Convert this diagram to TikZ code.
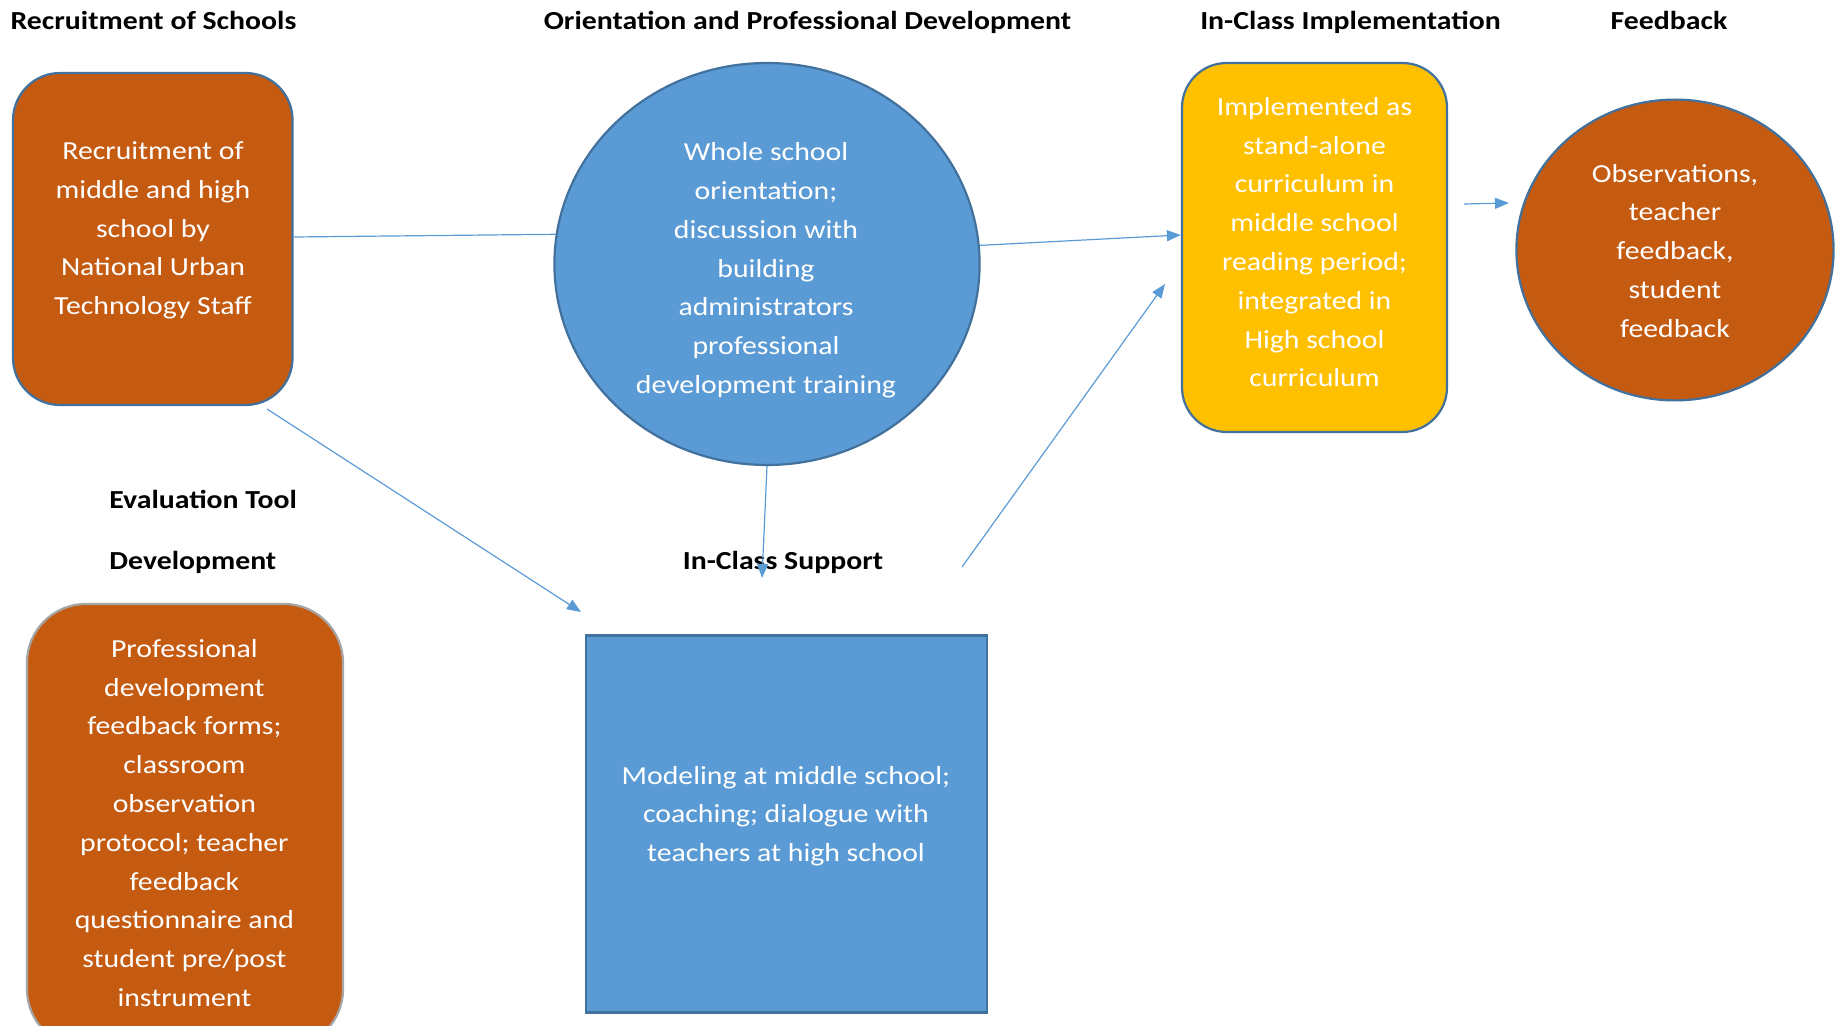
\documentclass[tikz,border=0pt]{standalone}
\usepackage{fontspec}
\setmainfont{Carlito}[FakeStretch=1.145]
\usetikzlibrary{arrows.meta,shapes.geometric}
\definecolor{corange}{HTML}{C55A11}
\definecolor{cblue}{HTML}{5B9BD5}
\definecolor{cyellow}{HTML}{FFC000}
\definecolor{cborder}{HTML}{41719C}
\definecolor{cgray}{HTML}{A5A5A5}
\tikzset{
  bodytext/.style={align=center, text=white, font=\fontsize{13}{19.4}\selectfont, inner sep=0pt},
  titletext/.style={font=\bfseries\fontsize{13}{16}\selectfont, inner sep=0pt},
  shapebox/.style={draw=cborder, line width=1.1pt, inner sep=0pt},
  conn/.style={draw=cblue, line width=0.6pt},
  connarrow/.style={conn, -{Triangle[length=7pt,width=5.5pt]}}
}
\begin{document}
\begin{tikzpicture}[x=1pt,y=-1pt]
\useasboundingbox (0,0) rectangle (921,513);
% shapes
\node[shapebox, fill=corange, rounded corners=23.5pt, minimum width=139.75pt, minimum height=166pt] (b1) at (76.4,119.5) {};
\node[shapebox, fill=cblue, ellipse, minimum width=212.6pt, minimum height=201pt] (e1) at (383.5,132) {};
\node[shapebox, fill=cyellow, rounded corners=22.3pt, minimum width=132.5pt, minimum height=184.5pt] (yb) at (657.25,123.75) {};
\node[shapebox, fill=corange, ellipse, minimum width=158.6pt, minimum height=150.4pt] (e2) at (837.5,125) {};
\node[shapebox, draw=cgray, fill=corange, rounded corners=29.4pt, minimum width=158pt, minimum height=222pt] (eb) at (92.5,413) {};
\node[shapebox, fill=cblue, rounded corners=0pt, minimum width=200.5pt, minimum height=188.5pt] (br) at (393.25,412) {};
% body texts
\node[bodytext] (t1) at (76.5,115.2) {Recruitment of\\middle and high\\school by\\National Urban\\Technology Staff};
\node[bodytext] (t2) at (383,135.2) {Whole school\\orientation;\\discussion with\\building\\administrators\\professional\\development training};
\node[bodytext] (t3) at (657.25,121.1) {Implemented as\\stand-alone\\curriculum in\\middle school\\reading period;\\integrated in\\High school\\curriculum};
\node[bodytext] (t4) at (837.5,125.4) {Observations,\\teacher\\feedback,\\student\\feedback};
\node[bodytext] (t5) at (92.2,411.5) {Professional\\development\\feedback forms;\\classroom\\observation\\protocol; teacher\\feedback\\questionnaire and\\student pre/post\\instrument};
\node[bodytext] (t6) at (393,408.1) {Modeling at middle school;\\coaching; dialogue with\\teachers at high school};
% titles
\node[titletext, anchor=base] (h1) at (76.75,14.9) {Recruitment of Schools};
\node[titletext, anchor=base] (h2) at (403.75,14.9) {Orientation and Professional Development};
\node[titletext, anchor=base] (h3) at (675.25,14.9) {In-Class Implementation};
\node[titletext, anchor=base] (h4) at (834.5,14.9) {Feedback};
\node[titletext, anchor=base west] (h5) at (54.5,254.4) {Evaluation Tool};
\node[titletext, anchor=base west] (h6) at (54.5,284.6) {Development};
\node[titletext, anchor=base] (h7) at (391.5,284.6) {In-Class Support};
% free ends
\coordinate (p1) at (133.5,204.5);
\coordinate (p2) at (290.5,306);
\coordinate (p3) at (381,289);
\coordinate (p4) at (481,283.5);
\coordinate (p5) at (582.5,142);
\coordinate (p6) at (732,102);
\coordinate (p7) at (754.5,101.5);
% connectors
\draw[conn] (b1.east |- 0,118.5) -- (e1.172);
\draw[connarrow] (e1.5) -- (yb.west |- 0,117.5);
\draw[connarrow] (p6) -- (p7);
\draw[connarrow] (p1) -- (p2);
\draw[connarrow] (e1.south) -- (p3);
\draw[connarrow] (p4) -- (p5);
\end{tikzpicture}
\end{document}
